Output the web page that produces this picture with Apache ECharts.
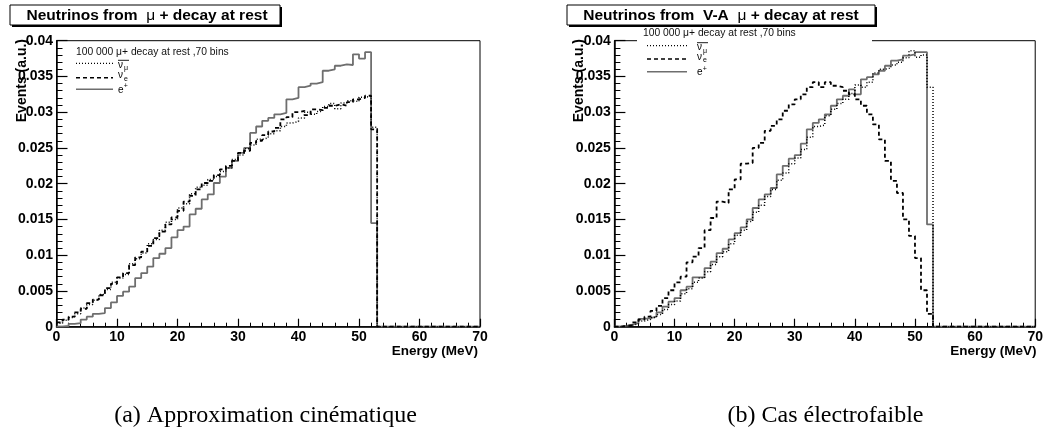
<!DOCTYPE html>
<html><head><meta charset="utf-8">
<script src="https://cdn.jsdelivr.net/npm/echarts@6/dist/echarts.min.js"></script>
<style>html,body{margin:0;padding:0;background:#fff}#c{width:1046px;height:434px}</style>
</head><body><div id="c"></div>
<script>
// ---- data ----
const xStart = 0, binWidth = 1, xMax = 70;
const xTickLabels = ['0','10','20','30','40','50','60','70'];
const yTickLabels = ['0','0.005','0.01','0.015','0.02','0.025','0.03','0.035','0.04'];
const panelTitles = ['Neutrinos from  μ + decay at rest', 'Neutrinos from  V-A  μ + decay at rest'];
const captions = ['(a) Approximation cinématique', '(b) Cas électrofaible'];
const legendHeader = '100 000 μ+ decay at rest ,70 bins';

// (a) kinematic approximation
const numuBarA = [0.0005,0.0009,0.0013,0.0018,0.0026,0.0031,0.0037,0.0045,0.0052,0.0062,0.0068,0.0073,0.0088,0.0095,0.0103,0.0116,0.0122,0.0135,0.0146,0.0150,0.0166,0.0172,0.0186,0.0195,0.0198,0.0206,0.0210,0.0217,0.0222,0.0234,0.0240,0.0249,0.0254,0.0262,0.0264,0.0270,0.0274,0.0280,0.0285,0.0287,0.0292,0.0300,0.0297,0.0301,0.0308,0.0312,0.0305,0.0313,0.0316,0.0315,0.0321,0.0322,0.0279];
const nueA = [0.0006,0.0010,0.0014,0.0020,0.0025,0.0033,0.0038,0.0044,0.0054,0.0060,0.0069,0.0075,0.0086,0.0097,0.0105,0.0113,0.0124,0.0133,0.0143,0.0153,0.0162,0.0175,0.0183,0.0192,0.0201,0.0204,0.0212,0.0220,0.0225,0.0232,0.0243,0.0246,0.0257,0.0260,0.0268,0.0273,0.0278,0.0290,0.0293,0.0300,0.0302,0.0296,0.0304,0.0303,0.0306,0.0309,0.0311,0.0309,0.0314,0.0318,0.0320,0.0323,0.0276];
const positronA = [0.0000,0.0001,0.0004,0.0005,0.0010,0.0014,0.0018,0.0019,0.0026,0.0034,0.0043,0.0049,0.0056,0.0068,0.0075,0.0084,0.0096,0.0102,0.0110,0.0125,0.0135,0.0140,0.0157,0.0165,0.0178,0.0185,0.0201,0.0210,0.0222,0.0232,0.0243,0.0250,0.0271,0.0280,0.0288,0.0292,0.0297,0.0299,0.0318,0.0320,0.0335,0.0337,0.0340,0.0342,0.0358,0.0360,0.0365,0.0367,0.0366,0.0381,0.0375,0.0384,0.0145];

// (b) V-A electroweak
const numuBarB = [0.0000,0.0001,0.0002,0.0004,0.0008,0.0010,0.0013,0.0017,0.0024,0.0031,0.0036,0.0046,0.0053,0.0062,0.0068,0.0077,0.0087,0.0098,0.0105,0.0116,0.0128,0.0135,0.0147,0.0160,0.0170,0.0182,0.0192,0.0205,0.0215,0.0228,0.0236,0.0248,0.0265,0.0280,0.0282,0.0295,0.0304,0.0312,0.0318,0.0326,0.0338,0.0335,0.0342,0.0355,0.0360,0.0362,0.0366,0.0370,0.0376,0.0386,0.0377,0.0380,0.0335];
const nueB = [0.0000,0.0001,0.0002,0.0006,0.0010,0.0014,0.0022,0.0029,0.0040,0.0051,0.0062,0.0070,0.0090,0.0098,0.0110,0.0135,0.0152,0.0175,0.0173,0.0192,0.0206,0.0228,0.0229,0.0250,0.0257,0.0274,0.0281,0.0290,0.0302,0.0311,0.0318,0.0325,0.0335,0.0342,0.0335,0.0342,0.0337,0.0335,0.0330,0.0325,0.0318,0.0309,0.0297,0.0283,0.0262,0.0232,0.0204,0.0187,0.0150,0.0127,0.0096,0.0051,0.0018];
const positronB = [0.0000,0.0001,0.0003,0.0005,0.0011,0.0012,0.0014,0.0020,0.0028,0.0035,0.0040,0.0051,0.0056,0.0069,0.0069,0.0082,0.0091,0.0103,0.0109,0.0122,0.0131,0.0139,0.0150,0.0166,0.0178,0.0185,0.0194,0.0213,0.0225,0.0235,0.0240,0.0256,0.0276,0.0285,0.0290,0.0297,0.0309,0.0318,0.0323,0.0332,0.0325,0.0346,0.0349,0.0353,0.0358,0.0365,0.0372,0.0374,0.0379,0.0381,0.0384,0.0384,0.0143];

// ---- build ----
function hist(vals){
  const pts = vals.map((v,i)=>[xStart + i*binWidth, v]);
  pts.push([xStart + vals.length*binWidth, 0]);
  pts.push([xMax, 0]);
  return pts;
}
const FONT = 'Liberation Sans, Arial, Helvetica, sans-serif';
const SERIF = '"Liberation Serif", "Times New Roman", Times, serif';
const styles = {
  dotted: {color:'#000', width:1.5, type:[1,2]},
  dashed: {color:'#000', width:1.8, type:[4,3]},
  solid:  {color:'#6e6e6e', width:1.8, type:'solid'}
};
const panels = [
  {left:56.5, width:423.5, data:{numu:numuBarA, nue:nueA, pos:positronA}},
  {left:614.4, width:423.3, data:{numu:numuBarB, nue:nueB, pos:positronB}}
];
const grids=[], xAxes=[], yAxes=[], series=[];
panels.forEach((p,k)=>{
  grids.push({left:p.left, width:p.width, top:40.7, height:286, show:true, borderColor:'#000', borderWidth:1, backgroundColor:'transparent'});
  xAxes.push({gridIndex:k, type:'value', min:xStart, max:xMax, interval:10,
    axisLine:{show:true, onZero:false, lineStyle:{color:'#000', width:1.5}},
    axisTick:{show:true, inside:true, length:8, lineStyle:{color:'#000', width:1.2}},
    minorTick:{show:true, splitNumber:5, length:4, lineStyle:{color:'#000', width:1}},
    splitLine:{show:false}, minorSplitLine:{show:false},
    axisLabel:{color:'#000', fontFamily:FONT, fontWeight:'bold', fontSize:14, margin:3,
      formatter:(v,i)=>xTickLabels[i]}});
  yAxes.push({gridIndex:k, type:'value', min:0, max:0.04, interval:0.005,
    axisLine:{show:true, onZero:false, lineStyle:{color:'#000', width:1.5}},
    axisTick:{show:true, inside:true, length:11, lineStyle:{color:'#000', width:1.2}},
    minorTick:{show:true, splitNumber:5, length:6, lineStyle:{color:'#000', width:1}},
    splitLine:{show:false}, minorSplitLine:{show:false},
    axisLabel:{color:'#000', fontFamily:FONT, fontWeight:'bold', fontSize:14, margin:3.5,
      formatter:(v,i)=>yTickLabels[i]}});
  const common = {type:'line', step:'end', xAxisIndex:k, yAxisIndex:k, showSymbol:false, symbol:'none', silent:true};
  series.push(Object.assign({}, common, {name:'e+', data:hist(p.data.pos), lineStyle:styles.solid, z:2}));
  series.push(Object.assign({}, common, {name:'nu_e', data:hist(p.data.nue), lineStyle:styles.dashed, z:3}));
  series.push(Object.assign({}, common, {name:'nubar_mu', data:hist(p.data.numu), lineStyle:styles.dotted, z:4}));
});

function txt(x,y,text,opt){
  return Object.assign({type:'text', x:x, y:y, z:100, silent:true,
    style:Object.assign({text:text, fill:'#000', fontFamily:FONT, fontSize:10,
      textAlign:'left', align:'left', textVerticalAlign:'middle', verticalAlign:'middle'}, opt && opt.style)}, opt && opt.el);
}
function ln(x1,y1,x2,y2,style){
  return {type:'line', z:100, silent:true, shape:{x1,y1,x2,y2}, style:Object.assign({stroke:'#000', lineWidth:1.5}, style)};
}
function titleBox(x,y,w,h,text,cx){
  const parts = text.split('μ');
  return [
    {type:'rect', z:100, silent:true, shape:{x:x+2,y:y+2,width:w,height:h}, style:{fill:'#000'}},
    {type:'rect', z:101, silent:true, shape:{x:x,y:y,width:w,height:h}, style:{fill:'#fff', stroke:'#000', lineWidth:1}},
    {type:'text', z:102, silent:true, x:cx, y:y+h/2+0.5, style:{
      text:'{b|'+parts[0]+'}{m|μ}{b|'+parts[1]+'}',
      textAlign:'center', align:'center', textVerticalAlign:'middle', verticalAlign:'middle',
      rich:{b:{fontFamily:FONT, fontWeight:'bold', fontSize:15.5, fill:'#000'},
            m:{fontFamily:FONT, fontWeight:'normal', fontSize:15.5, fill:'#000'}}}}
  ];
}
function legend(hx,hy,lx1,lx2,rows,labx){
  const g = [];
  g.push(txt(hx,hy,legendHeader,{style:{fontSize:10.3, fill:'#111'}}));
  g.push(ln(lx1,rows[0],lx2,rows[0],{lineDash:[1,2], lineWidth:1.3}));
  g.push(ln(lx1,rows[1],lx2,rows[1],{lineDash:[4,3], lineWidth:1.6}));
  g.push(ln(lx1,rows[2],lx2,rows[2],{stroke:'#6e6e6e', lineWidth:1.6}));
  g.push(txt(labx,rows[0]+1.5,'ν',{style:{fontSize:10}}));
  g.push(txt(labx+6,rows[0]+5,'μ',{style:{fontSize:7}}));
  g.push(ln(labx,rows[0]-3,labx+11,rows[0]-3,{lineWidth:0.9}));
  g.push(txt(labx,rows[1]-2,'ν',{style:{fontSize:10}}));
  g.push(txt(labx+6,rows[1]+1.5,'e',{style:{fontSize:7}}));
  g.push(txt(labx,rows[2]+0.5,'e',{style:{fontSize:10}}));
  g.push(txt(labx+5.8,rows[2]-3,'+',{style:{fontSize:7}}));
  return g;
}
const graphics = [].concat(
  titleBox(10,5,270,20,panelTitles[0],147),
  titleBox(567,5,308,20,panelTitles[1],721),
  [{type:'rect', z:99, silent:true, shape:{x:637,y:28,width:235,height:48}, style:{fill:'#fff'}}],
  legend(76,52,76,113,[63.3,77.7,89.3],118),
  legend(643,33.3,647,687,[45.7,59,71.7],697),
  [
    txt(22,39,'Events (a.u.)',{el:{rotation:Math.PI/2}, style:{fontSize:14, fontWeight:'bold', textAlign:'right', align:'right'}}),
    txt(579,39,'Events (a.u.)',{el:{rotation:Math.PI/2}, style:{fontSize:14, fontWeight:'bold', textAlign:'right', align:'right'}}),
    txt(478,351,'Energy (MeV)',{style:{fontSize:13.5, fontWeight:'bold', textAlign:'right', align:'right'}}),
    txt(1036.5,351,'Energy (MeV)',{style:{fontSize:13.5, fontWeight:'bold', textAlign:'right', align:'right'}}),
    txt(265.5,416,captions[0],{style:{fontFamily:SERIF, fontSize:24, textAlign:'center', align:'center'}}),
    txt(825.5,416,captions[1],{style:{fontFamily:SERIF, fontSize:24, textAlign:'center', align:'center'}})
  ]
);

const chart = echarts.init(document.getElementById('c'));
chart.setOption({
  animation:false,
  backgroundColor:'#fff',
  grid:grids, xAxis:xAxes, yAxis:yAxes, series:series,
  graphic:{elements:graphics}
});
</script>
</body></html>
